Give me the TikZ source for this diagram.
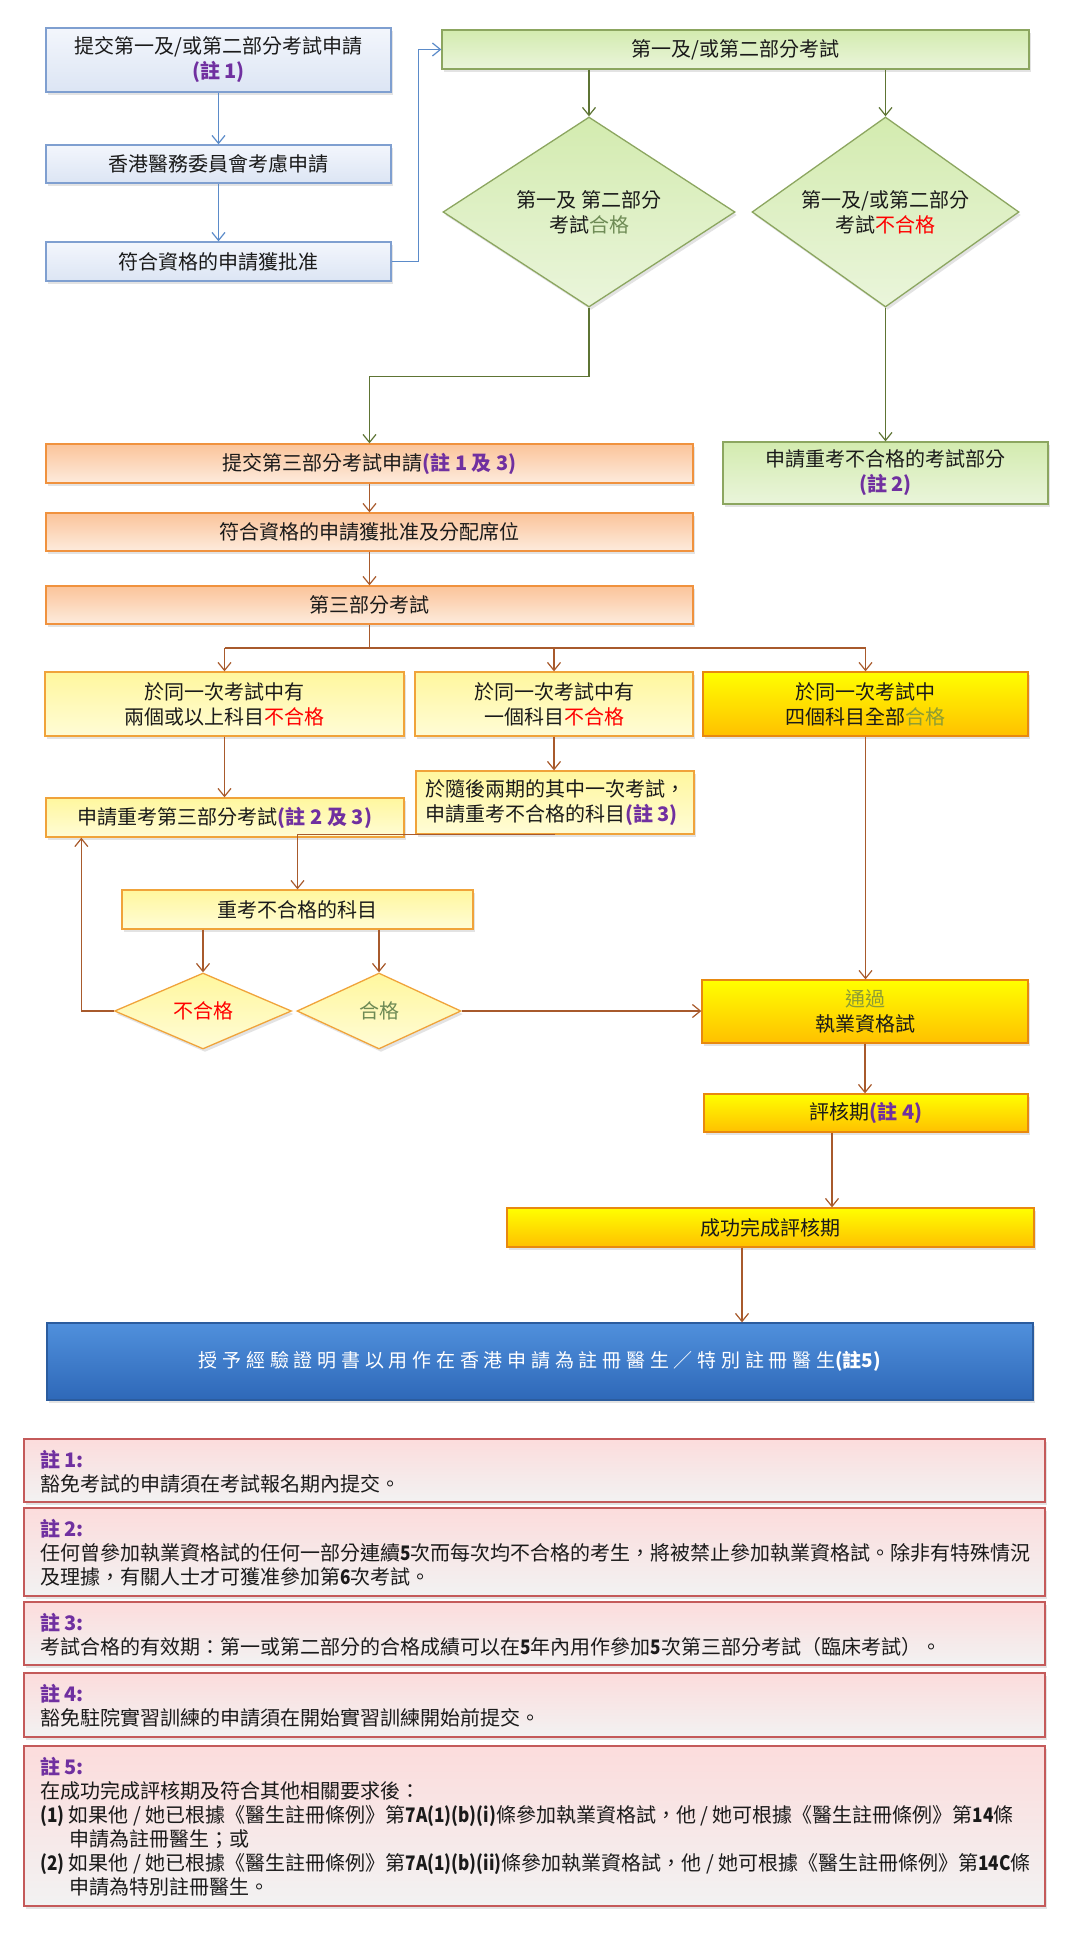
\documentclass[tikz,border=0pt]{standalone}
\usepackage{fontspec}
\setmainfont{Noto Sans CJK TC}
\usetikzlibrary{shapes.geometric,arrows.meta,shadows}
\definecolor{bluebd}{HTML}{7F9FD0}
\definecolor{bluetop}{HTML}{F3F6FC}
\definecolor{bluebot}{HTML}{DCE5F4}
\definecolor{bluearr}{HTML}{5B8BC9}
\definecolor{greenbd}{HTML}{8CA660}
\definecolor{greentop}{HTML}{D3EBAF}
\definecolor{greenbot}{HTML}{EAF5DB}
\definecolor{greenarr}{HTML}{5E7434}
\definecolor{orangebd}{HTML}{F0923E}
\definecolor{orangetop}{HTML}{FBC49A}
\definecolor{orangebot}{HTML}{FDEBDD}
\definecolor{orangearr}{HTML}{A85A2C}
\definecolor{yellowbd}{HTML}{F0A33A}
\definecolor{yellowtop}{HTML}{FFF79E}
\definecolor{yellowbot}{HTML}{FFFCD6}
\definecolor{goldbd}{HTML}{E8890F}
\definecolor{goldtop}{HTML}{FFFF00}
\definecolor{goldbot}{HTML}{FFC000}
\definecolor{bigbd}{HTML}{2B5C9E}
\definecolor{bigtop}{HTML}{5090DC}
\definecolor{bigbot}{HTML}{2E68B8}
\definecolor{notebd}{HTML}{C45A5A}
\definecolor{notetop}{HTML}{FCDCDC}
\definecolor{notebot}{HTML}{F2F2F2}
\definecolor{notep}{HTML}{7030A0}
\definecolor{failred}{HTML}{FF0000}
\definecolor{passgrey}{HTML}{6E8B55}
\definecolor{passolive}{HTML}{8C9C35}
\definecolor{txt}{HTML}{1A1A1A}
\newcommand{\notemk}[1]{{\color{notep}\bfseries #1}}
\newcommand{\bdn}[1]{{\bfseries\addfontfeature{FakeStretch=0.86}#1}}
\tikzset{
 base/.style={draw, line width=1.3pt, align=center, inner sep=2pt, text=txt,
   font=\fontsize{20}{25}\selectfont,
   drop shadow={opacity=0.22, shadow xshift=2pt, shadow yshift=-3pt}},
 bluebox/.style={base, draw=bluebd, top color=bluetop, bottom color=bluebot},
 greenbox/.style={base, draw=greenbd, top color=greentop, bottom color=greenbot},
 greendia/.style={greenbox, diamond, inner sep=0pt},
 orangebox/.style={base, draw=orangebd, top color=orangetop, bottom color=orangebot},
 yellowbox/.style={base, draw=yellowbd, top color=yellowtop, bottom color=yellowbot},
 yellowdia/.style={yellowbox, diamond, inner sep=0pt},
 goldbox/.style={base, draw=goldbd, top color=goldtop, bottom color=goldbot},
 bigbox/.style={base, draw=bigbd, top color=bigtop, bottom color=bigbot, text=white},
 notebox/.style={draw=notebd, line width=1.3pt, top color=notetop, bottom color=notebot,
   drop shadow={opacity=0.22, shadow xshift=2pt, shadow yshift=-3pt}},
 notetext/.style={anchor=west, align=left, inner sep=0pt, text=txt, font=\fontsize{20}{24}\selectfont},
 arr/.style={-{Straight Barb[length=8pt,width=13pt]}, line width=1.2pt},
 barr/.style={arr, draw=bluearr},
 garr/.style={arr, draw=greenarr},
 oarr/.style={arr, draw=orangearr},
 oln/.style={line width=1.2pt, draw=orangearr},
}
\begin{document}
\begin{tikzpicture}[x=1pt,y=-1pt]
\fill[white] (0,0) rectangle (1080,1935);
\useasboundingbox (0,0) rectangle (1080,1935);

% top blue section
\node[bluebox, minimum width=345, minimum height=64] (A) at (218.5,60) {提交第一及/或第二部分考試申請\\\notemk{(註 1)}};
\node[bluebox, minimum width=345, minimum height=38] (B) at (218.5,164) {香港醫務委員會考慮申請};
\node[bluebox, minimum width=345, minimum height=39] (C) at (218.5,261.5) {符合資格的申請獲批准};

% green section
\node[greenbox, minimum width=587, minimum height=39] (G) at (735.5,49.5) {第一及/或第二部分考試};
\node[greendia, aspect=1.54, minimum width=292, minimum height=190] (D1) at (589,212) {第一及 第二部分\\考試\textcolor{passgrey}{合格}};
\node[greendia, aspect=1.4, minimum width=267, minimum height=190] (D2) at (885.5,212) {第一及/或第二部分\\考試\textcolor{failred}{不合格}};
\node[greenbox, minimum width=325, minimum height=62] (F2) at (885.5,473) {申請重考不合格的考試部分\\\notemk{(註 2)}};

% orange section
\node[orangebox, minimum width=647, minimum height=39] (O1) at (369.5,463.5) {提交第三部分考試申請\notemk{(註 1 及 3)}};
\node[orangebox, minimum width=647, minimum height=38] (O2) at (369.5,532) {符合資格的申請獲批准及分配席位};
\node[orangebox, minimum width=647, minimum height=38] (O3) at (369.5,605) {第三部分考試};

% yellow section
\node[yellowbox, minimum width=359, minimum height=64] (Y1) at (224.5,704) {於同一次考試中有\\兩個或以上科目\textcolor{failred}{不合格}};
\node[yellowbox, minimum width=278, minimum height=64] (Y2) at (554,704) {於同一次考試中有\\一個科目\textcolor{failred}{不合格}};
\node[goldbox, minimum width=325, minimum height=64] (Y3) at (865.5,704) {於同一次考試中\\四個科目全部\textcolor{passolive}{合格}};
\node[yellowbox, minimum width=358, minimum height=39] (R) at (225,817.5) {申請重考第三部分考試\notemk{(註 2 及 3)}};
\node[yellowbox, minimum width=278, minimum height=63, align=left] (Y2b) at (555,802.5) {於隨後兩期的其中一次考試，\\申請重考不合格的科目\notemk{(註 3)}};
\node[yellowbox, minimum width=351, minimum height=39] (RS) at (297.5,909.5) {重考不合格的科目};
\node[yellowdia, aspect=2.33, minimum width=177, minimum height=76] (F) at (203,1011) {\textcolor{failred}{不合格}};
\node[yellowdia, aspect=2.16, minimum width=164, minimum height=76] (P) at (379,1011) {\textcolor{passgrey}{合格}};

% gold section
\node[goldbox, minimum width=326, minimum height=63] (Pass) at (865,1011.5) {\textcolor{passolive}{通過}\\執業資格試};
\node[goldbox, minimum width=324, minimum height=38] (Ev) at (866,1113) {評核期\notemk{(註 4)}};
\node[goldbox, minimum width=527, minimum height=39] (Succ) at (770.5,1227.5) {成功完成評核期};
\node[bigbox, minimum width=986, minimum height=77, font=\fontsize{19}{22}\selectfont] (Big) at (540,1361.5) {{\addfontfeature{LetterSpace=25}授予經驗證明書以用作在香港申請為註冊醫生／特別註冊醫生}{\bfseries (註5)}};

% connectors
\draw[barr] (A) -- (B);
\draw[barr] (B) -- (C);
\draw[barr] (C.east) -- ++(27,0) |- (G.west);
\draw[garr] (G.south -| D1.north) -- (D1.north);
\draw[garr] (G.south -| D2.north) -- (D2.north);
\draw[garr] (D1.south) -- ++(0,69) -| (O1.north);
\draw[garr] (D2.south) -- (F2.north);
\draw[oarr] (O1) -- (O2);
\draw[oarr] (O2) -- (O3);
\coordinate (J) at (369.5,648);
\draw[oln] (O3.south) -- (J);
\draw[oln] (Y1.north |- J) -- (Y3.north |- J);
\draw[oarr] (Y1.north |- J) -- (Y1.north);
\draw[oarr] (Y2.north |- J) -- (Y2.north);
\draw[oarr] (Y3.north |- J) -- (Y3.north);
\draw[oarr] (Y1.south) -- (Y1.south |- R.north);
\draw[oarr] (Y2.south) -- (Y2.south |- Y2b.north);
\draw[oarr] (Y2b.south) -| (RS.north);
\draw[oarr] (F.north |- RS.south) -- (F.north);
\draw[oarr] (P.north |- RS.south) -- (P.north);
\draw[oarr] (F.west) -| ([xshift=36pt]R.south west);
\draw[oarr] (P.east) -- (P.east -| Pass.west);
\draw[oarr] (Y3.south) -- (Y3.south |- Pass.north);
\draw[oarr] (Pass.south) -- (Pass.south |- Ev.north);
\coordinate (evs) at ([xshift=-34pt]Ev.south);
\draw[oarr] (evs) -- (evs |- Succ.north);
\coordinate (sus) at ([xshift=-28.5pt]Succ.south);
\draw[oarr] (sus) -- (sus |- Big.north);

% notes
\node[notebox, minimum width=1021, minimum height=63] (N1) at (534.5,1470.5) {};
\node[notetext] (N1t) at (40,1472) {\notemk{註 1:}\\豁免考試的申請須在考試報名期內提交。};
\node[notebox, minimum width=1021, minimum height=88] (N2) at (534.5,1552) {};
\node[notetext] (N2t) at (40,1553) {\notemk{註 2:}\\任何曾參加執業資格試的任何一部分連續\bdn{5}次而每次均不合格的考生，將被禁止參加執業資格試。除非有特殊情況\\及理據，有關人士才可獲准參加第\bdn{6}次考試。};
\node[notebox, minimum width=1021, minimum height=63] (N3) at (534.5,1633.5) {};
\node[notetext] (N3t) at (40,1635) {\notemk{註 3:}\\考試合格的有效期：第一或第二部分的合格成績可以在\bdn{5}年內用作參加\bdn{5}次第三部分考試（臨床考試）。};
\node[notebox, minimum width=1021, minimum height=64] (N4) at (534.5,1705) {};
\node[notetext] (N4t) at (40,1706) {\notemk{註 4:}\\豁免駐院實習訓練的申請須在開始實習訓練開始前提交。};
\node[notebox, minimum width=1021, minimum height=160] (N5) at (534.5,1826) {};
\node[notetext] (N5t) at (40,1826.5) {\notemk{註 5:}\\在成功完成評核期及符合其他相關要求後：\\\bdn{(1)} 如果他 / 她已根據《醫生註冊條例》第\bdn{7A(1)(b)(i)}條參加執業資格試，他 / 她可根據《醫生註冊條例》第\bdn{14}條\\\hspace*{29pt}申請為註冊醫生；或\\\bdn{(2)} 如果他 / 她已根據《醫生註冊條例》第\bdn{7A(1)(b)(ii)}條參加執業資格試，他 / 她可根據《醫生註冊條例》第\bdn{14C}條\\\hspace*{29pt}申請為特別註冊醫生。};
\end{tikzpicture}
\end{document}
